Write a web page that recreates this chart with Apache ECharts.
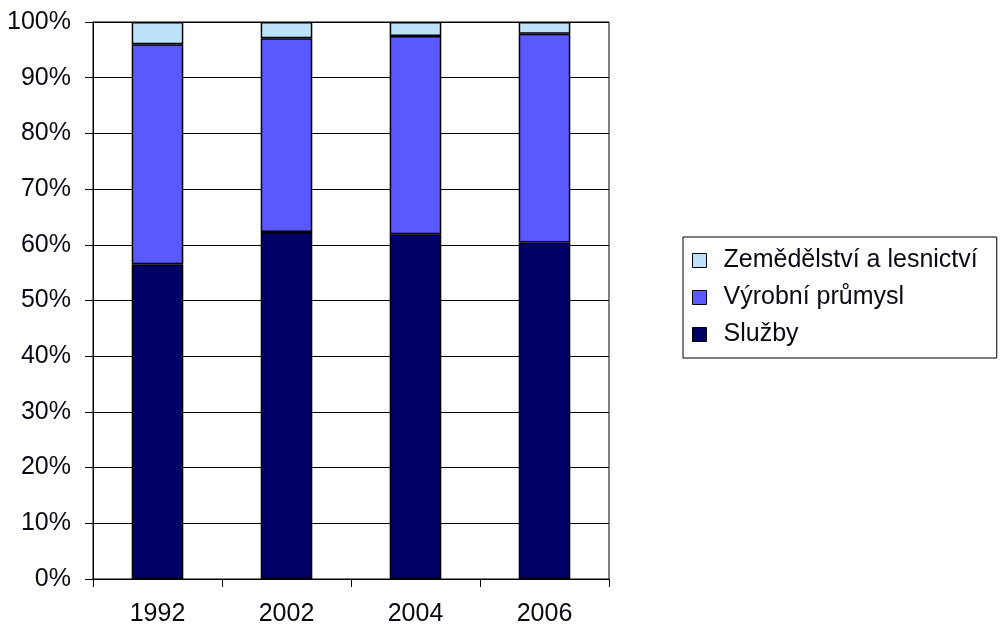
<!DOCTYPE html>
<html>
<head>
<meta charset="utf-8">
<script src="https://cdn.jsdelivr.net/npm/echarts@6/dist/echarts.min.js"></script>
<style>
  html, body { margin: 0; padding: 0; background: #fff; }
  #main { width: 1000px; height: 628px; }
</style>
</head>
<body>
<div id="main"></div>
<script>
// roky
var years = ['1992', '2002', '2004', '2006'];
// podíly v %
var sluzby = [56.5, 62.3, 61.9, 60.4];
var vyroba = [39.5, 34.8, 35.6, 37.5];
var zemedelstvi = [4.0, 2.9, 2.5, 2.1];
var yTicks = [0, 10, 20, 30, 40, 50, 60, 70, 80, 90, 100];

var chart = echarts.init(document.getElementById('main'));
var font = 'Liberation Sans, Arial, sans-serif';

chart.setOption({
  animation: false,
  backgroundColor: '#fff',
  textStyle: { fontFamily: font },
  grid: {
    left: 93, right: 391, top: 22, bottom: 49,
    show: true, borderColor: '#000', borderWidth: 1
  },
  legend: {
    orient: 'vertical',
    left: 683, top: 237,
    padding: [11, 19, 11, 9],
    borderColor: '#000', borderWidth: 1,
    itemWidth: 14, itemHeight: 14, itemGap: 12,
    icon: 'rect',
    itemStyle: { borderColor: '#000', borderWidth: 1 },
    textStyle: { fontSize: 25, color: '#0a0a14', fontFamily: font, lineHeight: 24, padding: [0, 0, 0, 12] },
    data: ['Zemědělství a lesnictví', 'Výrobní průmysl', 'Služby']
  },
  xAxis: {
    type: 'category',
    data: years,
    axisLine: { lineStyle: { color: '#000', width: 1 } },
    axisTick: { show: true, length: 8, alignWithLabel: false, lineStyle: { color: '#000' } },
    axisLabel: { fontSize: 25, color: '#0a0a14', margin: 23 },
    splitLine: { show: false }
  },
  yAxis: {
    type: 'value',
    min: 0, max: 100, interval: 10,
    axisLine: { show: true, lineStyle: { color: '#000', width: 1 } },
    axisTick: { show: true, length: 8, lineStyle: { color: '#000' } },
    axisLabel: {
      fontSize: 25, color: '#0a0a14', margin: 22,
      formatter: function (v) { return yTicks.indexOf(v) >= 0 ? v + '%' : ''; }
    },
    splitLine: { show: true, lineStyle: { color: '#000', width: 1 } }
  },
  series: [
    {
      name: 'Služby', type: 'bar', stack: 'a', data: sluzby,
      barWidth: '40%',
      itemStyle: { color: '#000066', borderColor: '#000', borderWidth: 1.5 }
    },
    {
      name: 'Výrobní průmysl', type: 'bar', stack: 'a', data: vyroba,
      itemStyle: { color: '#5959FF', borderColor: '#000', borderWidth: 1.5 }
    },
    {
      name: 'Zemědělství a lesnictví', type: 'bar', stack: 'a', data: zemedelstvi,
      itemStyle: { color: '#BDE3FA', borderColor: '#000', borderWidth: 1.5 }
    }
  ]
});
</script>
</body>
</html>
